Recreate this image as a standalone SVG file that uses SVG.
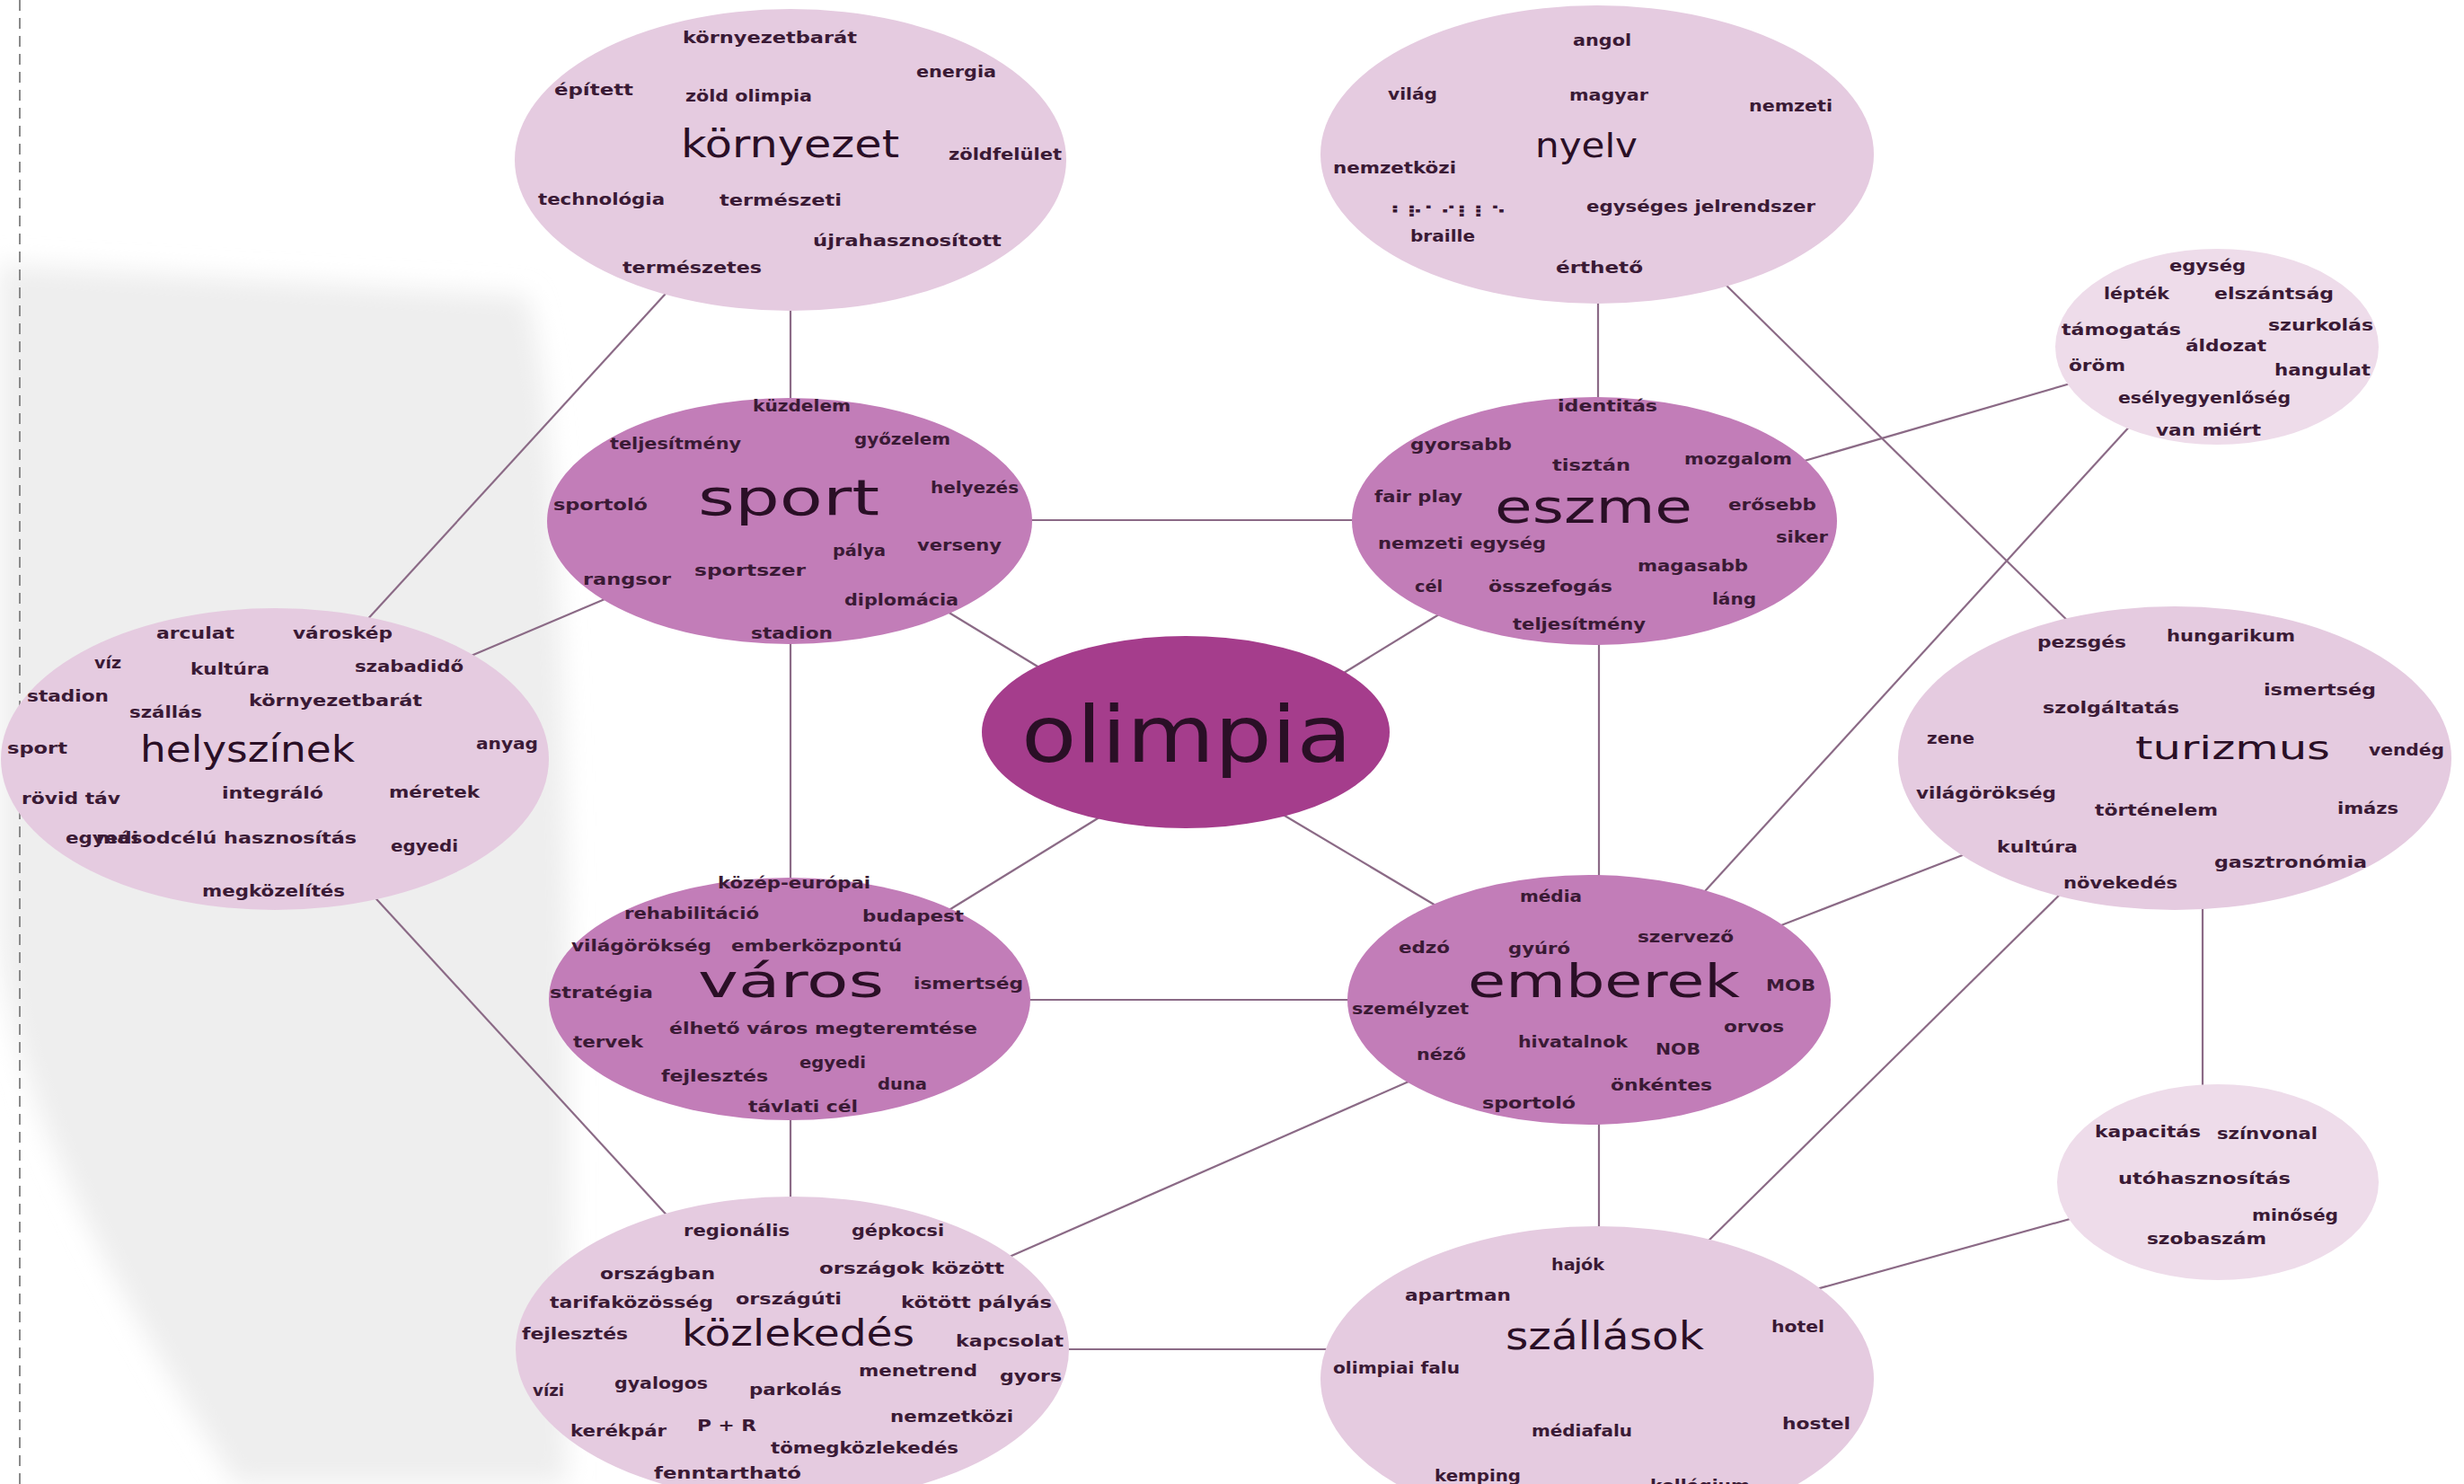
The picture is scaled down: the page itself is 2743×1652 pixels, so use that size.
<svg xmlns="http://www.w3.org/2000/svg" width="2743" height="1652" viewBox="0 0 2743 1652">
<style>
.conn line{stroke:#8b6a86;stroke-width:2.2}
.L{fill:#e5cbe0}
.P{fill:#eedcea}
.M{fill:#c27db8}
.O{fill:#a53d8c}
.w{font-family:"DejaVu Sans",sans-serif;font-weight:bold;font-size:17px;fill:#3a1a35}
.b{font-family:"DejaVu Sans",sans-serif;font-weight:normal;fill:#2a0f26}
</style>
<defs>
<filter id="blur" x="-20%" y="-20%" width="140%" height="140%"><feGaussianBlur stdDeviation="14"/></filter>
</defs>
<rect width="2743" height="1652" fill="#ffffff"/>
<path d="M0,294 L586,329 C630,455 639,1050 630,1652 L262,1652 C105,1400 17,1225 0,1050 Z" fill="#eeeeee" filter="url(#blur)"/>
<line x1="22" y1="0" x2="22" y2="1652" stroke="#8a8a8a" stroke-width="2" stroke-dasharray="12 8"/>

<g class="conn" id="connectors">
<line x1="750" y1="317" x2="405" y2="694"/>
<line x1="880" y1="330" x2="880" y2="460"/>
<line x1="1779" y1="320" x2="1779" y2="460"/>
<line x1="1915" y1="311" x2="2315" y2="704"/>
<line x1="1140" y1="579" x2="1515" y2="579"/>
<line x1="515" y1="734" x2="685" y2="662"/>
<line x1="1045" y1="675" x2="1170" y2="751"/>
<line x1="1995" y1="517" x2="2315" y2="424"/>
<line x1="1610" y1="679" x2="1483" y2="757"/>
<line x1="2375" y1="470" x2="1888" y2="1003"/>
<line x1="2195" y1="948" x2="1970" y2="1035"/>
<line x1="2298" y1="991" x2="1895" y2="1388"/>
<line x1="2452" y1="1000" x2="2452" y2="1220"/>
<line x1="410" y1="991" x2="748" y2="1359"/>
<line x1="880" y1="700" x2="880" y2="990"/>
<line x1="1780" y1="700" x2="1780" y2="990"/>
<line x1="1235" y1="903" x2="1050" y2="1017"/>
<line x1="1420" y1="902" x2="1610" y2="1015"/>
<line x1="1140" y1="1113" x2="1510" y2="1113"/>
<line x1="880" y1="1230" x2="880" y2="1350"/>
<line x1="1575" y1="1201" x2="1110" y2="1405"/>
<line x1="1780" y1="1240" x2="1780" y2="1380"/>
<line x1="1180" y1="1502" x2="1485" y2="1502"/>
<line x1="2015" y1="1437" x2="2315" y2="1354"/>
</g>

<g id="kornyezet">
<ellipse class="L" cx="880" cy="178" rx="307" ry="168"/>
<text class="w" x="760" y="48" textLength="194" lengthAdjust="spacingAndGlyphs">környezetbarát</text>
<text class="w" x="1020" y="86" textLength="89" lengthAdjust="spacingAndGlyphs">energia</text>
<text class="w" x="617" y="106" textLength="88" lengthAdjust="spacingAndGlyphs">épített</text>
<text class="w" x="763" y="113" textLength="141" lengthAdjust="spacingAndGlyphs">zöld olimpia</text>
<text class="b" x="758" y="175" font-size="42" textLength="243" lengthAdjust="spacingAndGlyphs">környezet</text>
<text class="w" x="1056" y="178" textLength="126" lengthAdjust="spacingAndGlyphs">zöldfelület</text>
<text class="w" x="599" y="228" textLength="141" lengthAdjust="spacingAndGlyphs">technológia</text>
<text class="w" x="801" y="229" textLength="136" lengthAdjust="spacingAndGlyphs">természeti</text>
<text class="w" x="905" y="274" textLength="210" lengthAdjust="spacingAndGlyphs">újrahasznosított</text>
<text class="w" x="693" y="304" textLength="155" lengthAdjust="spacingAndGlyphs">természetes</text>
</g>

<g id="nyelv">
<ellipse class="L" cx="1778" cy="172" rx="308" ry="166"/>
<text class="w" x="1751" y="51" textLength="65" lengthAdjust="spacingAndGlyphs">angol</text>
<text class="w" x="1545" y="111" textLength="55" lengthAdjust="spacingAndGlyphs">világ</text>
<text class="w" x="1747" y="112" textLength="88" lengthAdjust="spacingAndGlyphs">magyar</text>
<text class="w" x="1947" y="124" textLength="93" lengthAdjust="spacingAndGlyphs">nemzeti</text>
<text class="b" x="1709" y="175" font-size="38" textLength="114" lengthAdjust="spacingAndGlyphs">nyelv</text>
<text class="w" x="1484" y="193" textLength="137" lengthAdjust="spacingAndGlyphs">nemzetközi</text>
<text class="w" x="1547" y="242" font-size="30" textLength="130" lengthAdjust="spacingAndGlyphs">⠃⠗⠁⠊⠇⠇⠑</text>
<text class="w" x="1766" y="236" textLength="255" lengthAdjust="spacingAndGlyphs">egységes jelrendszer</text>
<text class="w" x="1570" y="269" textLength="72" lengthAdjust="spacingAndGlyphs">braille</text>
<text class="w" x="1732" y="304" textLength="97" lengthAdjust="spacingAndGlyphs">érthető</text>
</g>

<g id="eszme-ertekek">
<ellipse class="P" cx="2468" cy="386" rx="180" ry="109"/>
<text class="w" x="2415" y="302" textLength="85" lengthAdjust="spacingAndGlyphs">egység</text>
<text class="w" x="2342" y="333" textLength="73" lengthAdjust="spacingAndGlyphs">lépték</text>
<text class="w" x="2465" y="333" textLength="133" lengthAdjust="spacingAndGlyphs">elszántság</text>
<text class="w" x="2295" y="373" textLength="133" lengthAdjust="spacingAndGlyphs">támogatás</text>
<text class="w" x="2525" y="368" textLength="117" lengthAdjust="spacingAndGlyphs">szurkolás</text>
<text class="w" x="2433" y="391" textLength="90" lengthAdjust="spacingAndGlyphs">áldozat</text>
<text class="w" x="2303" y="413" textLength="63" lengthAdjust="spacingAndGlyphs">öröm</text>
<text class="w" x="2532" y="418" textLength="107" lengthAdjust="spacingAndGlyphs">hangulat</text>
<text class="w" x="2358" y="449" textLength="192" lengthAdjust="spacingAndGlyphs">esélyegyenlőség</text>
<text class="w" x="2400" y="485" textLength="117" lengthAdjust="spacingAndGlyphs">van miért</text>
</g>

<g id="sport">
<ellipse class="M" cx="879" cy="580" rx="270" ry="137"/>
<text class="w" x="838" y="458" textLength="109" lengthAdjust="spacingAndGlyphs">küzdelem</text>
<text class="w" x="679" y="500" textLength="146" lengthAdjust="spacingAndGlyphs">teljesítmény</text>
<text class="w" x="951" y="495" textLength="107" lengthAdjust="spacingAndGlyphs">győzelem</text>
<text class="b" x="777" y="573" font-size="56" textLength="202" lengthAdjust="spacingAndGlyphs">sport</text>
<text class="w" x="1036" y="549" textLength="98" lengthAdjust="spacingAndGlyphs">helyezés</text>
<text class="w" x="616" y="568" textLength="105" lengthAdjust="spacingAndGlyphs">sportoló</text>
<text class="w" x="927" y="619" textLength="59" lengthAdjust="spacingAndGlyphs">pálya</text>
<text class="w" x="1021" y="613" textLength="94" lengthAdjust="spacingAndGlyphs">verseny</text>
<text class="w" x="773" y="641" textLength="124" lengthAdjust="spacingAndGlyphs">sportszer</text>
<text class="w" x="649" y="651" textLength="98" lengthAdjust="spacingAndGlyphs">rangsor</text>
<text class="w" x="940" y="674" textLength="127" lengthAdjust="spacingAndGlyphs">diplomácia</text>
<text class="w" x="836" y="711" textLength="91" lengthAdjust="spacingAndGlyphs">stadion</text>
</g>

<g id="eszme">
<ellipse class="M" cx="1775" cy="580" rx="270" ry="138"/>
<text class="w" x="1734" y="458" textLength="111" lengthAdjust="spacingAndGlyphs">identitás</text>
<text class="w" x="1570" y="501" textLength="113" lengthAdjust="spacingAndGlyphs">gyorsabb</text>
<text class="w" x="1728" y="524" textLength="87" lengthAdjust="spacingAndGlyphs">tisztán</text>
<text class="w" x="1875" y="517" textLength="120" lengthAdjust="spacingAndGlyphs">mozgalom</text>
<text class="w" x="1530" y="559" textLength="98" lengthAdjust="spacingAndGlyphs">fair play</text>
<text class="b" x="1664" y="582" font-size="52" textLength="220" lengthAdjust="spacingAndGlyphs">eszme</text>
<text class="w" x="1924" y="568" textLength="98" lengthAdjust="spacingAndGlyphs">erősebb</text>
<text class="w" x="1977" y="604" textLength="58" lengthAdjust="spacingAndGlyphs">siker</text>
<text class="w" x="1534" y="611" textLength="187" lengthAdjust="spacingAndGlyphs">nemzeti egység</text>
<text class="w" x="1823" y="636" textLength="123" lengthAdjust="spacingAndGlyphs">magasabb</text>
<text class="w" x="1575" y="659" textLength="31" lengthAdjust="spacingAndGlyphs">cél</text>
<text class="w" x="1657" y="659" textLength="138" lengthAdjust="spacingAndGlyphs">összefogás</text>
<text class="w" x="1906" y="673" textLength="49" lengthAdjust="spacingAndGlyphs">láng</text>
<text class="w" x="1684" y="701" textLength="148" lengthAdjust="spacingAndGlyphs">teljesítmény</text>
</g>

<g id="helyszinek">
<ellipse class="L" cx="306" cy="845" rx="305" ry="168"/>
<text class="w" x="174" y="711" textLength="87" lengthAdjust="spacingAndGlyphs">arculat</text>
<text class="w" x="326" y="711" textLength="111" lengthAdjust="spacingAndGlyphs">városkép</text>
<text class="w" x="105" y="744" textLength="30" lengthAdjust="spacingAndGlyphs">víz</text>
<text class="w" x="212" y="751" textLength="88" lengthAdjust="spacingAndGlyphs">kultúra</text>
<text class="w" x="395" y="748" textLength="121" lengthAdjust="spacingAndGlyphs">szabadidő</text>
<text class="w" x="30" y="781" textLength="91" lengthAdjust="spacingAndGlyphs">stadion</text>
<text class="w" x="277" y="786" textLength="193" lengthAdjust="spacingAndGlyphs">környezetbarát</text>
<text class="w" x="144" y="799" textLength="81" lengthAdjust="spacingAndGlyphs">szállás</text>
<text class="w" x="8" y="839" textLength="67" lengthAdjust="spacingAndGlyphs">sport</text>
<text class="b" x="156" y="848" font-size="40" textLength="239" lengthAdjust="spacingAndGlyphs">helyszínek</text>
<text class="w" x="530" y="834" textLength="69" lengthAdjust="spacingAndGlyphs">anyag</text>
<text class="w" x="247" y="889" textLength="113" lengthAdjust="spacingAndGlyphs">integráló</text>
<text class="w" x="433" y="888" textLength="101" lengthAdjust="spacingAndGlyphs">méretek</text>
<text class="w" x="24" y="895" textLength="110" lengthAdjust="spacingAndGlyphs">rövid táv</text>
<text class="w" x="73" y="939" textLength="81" lengthAdjust="spacingAndGlyphs">egyedi</text>
<text class="w" x="107" y="939" textLength="290" lengthAdjust="spacingAndGlyphs">másodcélú hasznosítás</text>
<text class="w" x="435" y="948" textLength="75" lengthAdjust="spacingAndGlyphs">egyedi</text>
<text class="w" x="225" y="998" textLength="159" lengthAdjust="spacingAndGlyphs">megközelítés</text>
</g>

<g id="turizmus">
<ellipse class="L" cx="2421" cy="844" rx="308" ry="169"/>
<text class="w" x="2268" y="721" textLength="99" lengthAdjust="spacingAndGlyphs">pezsgés</text>
<text class="w" x="2412" y="714" textLength="143" lengthAdjust="spacingAndGlyphs">hungarikum</text>
<text class="w" x="2520" y="774" textLength="125" lengthAdjust="spacingAndGlyphs">ismertség</text>
<text class="w" x="2274" y="794" textLength="152" lengthAdjust="spacingAndGlyphs">szolgáltatás</text>
<text class="w" x="2145" y="828" textLength="53" lengthAdjust="spacingAndGlyphs">zene</text>
<text class="b" x="2377" y="845" font-size="36" textLength="217" lengthAdjust="spacingAndGlyphs">turizmus</text>
<text class="w" x="2637" y="841" textLength="84" lengthAdjust="spacingAndGlyphs">vendég</text>
<text class="w" x="2133" y="889" textLength="156" lengthAdjust="spacingAndGlyphs">világörökség</text>
<text class="w" x="2332" y="908" textLength="137" lengthAdjust="spacingAndGlyphs">történelem</text>
<text class="w" x="2602" y="906" textLength="68" lengthAdjust="spacingAndGlyphs">imázs</text>
<text class="w" x="2223" y="949" textLength="90" lengthAdjust="spacingAndGlyphs">kultúra</text>
<text class="w" x="2465" y="966" textLength="170" lengthAdjust="spacingAndGlyphs">gasztronómia</text>
<text class="w" x="2297" y="989" textLength="127" lengthAdjust="spacingAndGlyphs">növekedés</text>
</g>

<g id="olimpia">
<ellipse class="O" cx="1320" cy="815" rx="227" ry="107"/>
<text class="b" x="1137" y="848" font-size="88" textLength="368" lengthAdjust="spacingAndGlyphs">olimpia</text>
</g>

<g id="varos">
<ellipse class="M" cx="879" cy="1112" rx="268" ry="135"/>
<text class="w" x="799" y="989" textLength="170" lengthAdjust="spacingAndGlyphs">közép-európai</text>
<text class="w" x="695" y="1023" textLength="150" lengthAdjust="spacingAndGlyphs">rehabilitáció</text>
<text class="w" x="960" y="1026" textLength="113" lengthAdjust="spacingAndGlyphs">budapest</text>
<text class="w" x="636" y="1059" textLength="156" lengthAdjust="spacingAndGlyphs">világörökség</text>
<text class="w" x="814" y="1059" textLength="190" lengthAdjust="spacingAndGlyphs">emberközpontú</text>
<text class="b" x="777" y="1110" font-size="52" textLength="207" lengthAdjust="spacingAndGlyphs">város</text>
<text class="w" x="1017" y="1101" textLength="122" lengthAdjust="spacingAndGlyphs">ismertség</text>
<text class="w" x="612" y="1111" textLength="115" lengthAdjust="spacingAndGlyphs">stratégia</text>
<text class="w" x="745" y="1151" textLength="343" lengthAdjust="spacingAndGlyphs">élhető város megteremtése</text>
<text class="w" x="638" y="1166" textLength="78" lengthAdjust="spacingAndGlyphs">tervek</text>
<text class="w" x="890" y="1189" textLength="74" lengthAdjust="spacingAndGlyphs">egyedi</text>
<text class="w" x="736" y="1204" textLength="119" lengthAdjust="spacingAndGlyphs">fejlesztés</text>
<text class="w" x="977" y="1213" textLength="55" lengthAdjust="spacingAndGlyphs">duna</text>
<text class="w" x="833" y="1238" textLength="122" lengthAdjust="spacingAndGlyphs">távlati cél</text>
</g>

<g id="emberek">
<ellipse class="M" cx="1769" cy="1113" rx="269" ry="139"/>
<text class="w" x="1692" y="1004" textLength="69" lengthAdjust="spacingAndGlyphs">média</text>
<text class="w" x="1557" y="1061" textLength="57" lengthAdjust="spacingAndGlyphs">edzó</text>
<text class="w" x="1679" y="1062" textLength="69" lengthAdjust="spacingAndGlyphs">gyúró</text>
<text class="w" x="1823" y="1049" textLength="107" lengthAdjust="spacingAndGlyphs">szervező</text>
<text class="b" x="1634" y="1110" font-size="52" textLength="303" lengthAdjust="spacingAndGlyphs">emberek</text>
<text class="w" x="1966" y="1103" textLength="55" lengthAdjust="spacingAndGlyphs">MOB</text>
<text class="w" x="1505" y="1129" textLength="130" lengthAdjust="spacingAndGlyphs">személyzet</text>
<text class="w" x="1919" y="1149" textLength="67" lengthAdjust="spacingAndGlyphs">orvos</text>
<text class="w" x="1690" y="1166" textLength="122" lengthAdjust="spacingAndGlyphs">hivatalnok</text>
<text class="w" x="1843" y="1174" textLength="50" lengthAdjust="spacingAndGlyphs">NOB</text>
<text class="w" x="1577" y="1180" textLength="55" lengthAdjust="spacingAndGlyphs">néző</text>
<text class="w" x="1793" y="1214" textLength="113" lengthAdjust="spacingAndGlyphs">önkéntes</text>
<text class="w" x="1650" y="1234" textLength="104" lengthAdjust="spacingAndGlyphs">sportoló</text>
</g>

<g id="kozlekedes">
<ellipse class="L" cx="882" cy="1502" rx="308" ry="170"/>
<text class="w" x="761" y="1376" textLength="118" lengthAdjust="spacingAndGlyphs">regionális</text>
<text class="w" x="948" y="1376" textLength="103" lengthAdjust="spacingAndGlyphs">gépkocsi</text>
<text class="w" x="668" y="1424" textLength="128" lengthAdjust="spacingAndGlyphs">országban</text>
<text class="w" x="912" y="1418" textLength="206" lengthAdjust="spacingAndGlyphs">országok között</text>
<text class="w" x="612" y="1456" textLength="182" lengthAdjust="spacingAndGlyphs">tarifaközösség</text>
<text class="w" x="819" y="1452" textLength="118" lengthAdjust="spacingAndGlyphs">országúti</text>
<text class="w" x="1003" y="1456" textLength="168" lengthAdjust="spacingAndGlyphs">kötött pályás</text>
<text class="w" x="581" y="1491" textLength="118" lengthAdjust="spacingAndGlyphs">fejlesztés</text>
<text class="b" x="759" y="1498" font-size="40" textLength="259" lengthAdjust="spacingAndGlyphs">közlekedés</text>
<text class="w" x="1064" y="1499" textLength="120" lengthAdjust="spacingAndGlyphs">kapcsolat</text>
<text class="w" x="956" y="1532" textLength="132" lengthAdjust="spacingAndGlyphs">menetrend</text>
<text class="w" x="1113" y="1538" textLength="69" lengthAdjust="spacingAndGlyphs">gyors</text>
<text class="w" x="593" y="1554" textLength="35" lengthAdjust="spacingAndGlyphs">vízi</text>
<text class="w" x="684" y="1546" textLength="104" lengthAdjust="spacingAndGlyphs">gyalogos</text>
<text class="w" x="834" y="1553" textLength="103" lengthAdjust="spacingAndGlyphs">parkolás</text>
<text class="w" x="991" y="1583" textLength="137" lengthAdjust="spacingAndGlyphs">nemzetközi</text>
<text class="w" x="635" y="1599" textLength="107" lengthAdjust="spacingAndGlyphs">kerékpár</text>
<text class="w" x="776" y="1593" textLength="66" lengthAdjust="spacingAndGlyphs">P + R</text>
<text class="w" x="858" y="1618" textLength="209" lengthAdjust="spacingAndGlyphs">tömegközlekedés</text>
<text class="w" x="728" y="1646" textLength="164" lengthAdjust="spacingAndGlyphs">fenntartható</text>
</g>

<g id="szallasok">
<ellipse class="L" cx="1778" cy="1535" rx="308" ry="170"/>
<text class="w" x="1727" y="1414" textLength="59" lengthAdjust="spacingAndGlyphs">hajók</text>
<text class="w" x="1564" y="1448" textLength="118" lengthAdjust="spacingAndGlyphs">apartman</text>
<text class="b" x="1676" y="1502" font-size="42" textLength="221" lengthAdjust="spacingAndGlyphs">szállások</text>
<text class="w" x="1972" y="1483" textLength="59" lengthAdjust="spacingAndGlyphs">hotel</text>
<text class="w" x="1484" y="1529" textLength="141" lengthAdjust="spacingAndGlyphs">olimpiai falu</text>
<text class="w" x="1705" y="1599" textLength="112" lengthAdjust="spacingAndGlyphs">médiafalu</text>
<text class="w" x="1984" y="1591" textLength="76" lengthAdjust="spacingAndGlyphs">hostel</text>
<text class="w" x="1597" y="1649" textLength="96" lengthAdjust="spacingAndGlyphs">kemping</text>
<text class="w" x="1837" y="1660" textLength="111" lengthAdjust="spacingAndGlyphs">kollégium</text>
</g>

<g id="utohasznositas">
<ellipse class="P" cx="2469" cy="1316" rx="179" ry="109"/>
<text class="w" x="2332" y="1266" textLength="118" lengthAdjust="spacingAndGlyphs">kapacitás</text>
<text class="w" x="2468" y="1268" textLength="112" lengthAdjust="spacingAndGlyphs">színvonal</text>
<text class="w" x="2358" y="1318" textLength="192" lengthAdjust="spacingAndGlyphs">utóhasznosítás</text>
<text class="w" x="2507" y="1359" textLength="96" lengthAdjust="spacingAndGlyphs">minőség</text>
<text class="w" x="2390" y="1385" textLength="133" lengthAdjust="spacingAndGlyphs">szobaszám</text>
</g>
</svg>
